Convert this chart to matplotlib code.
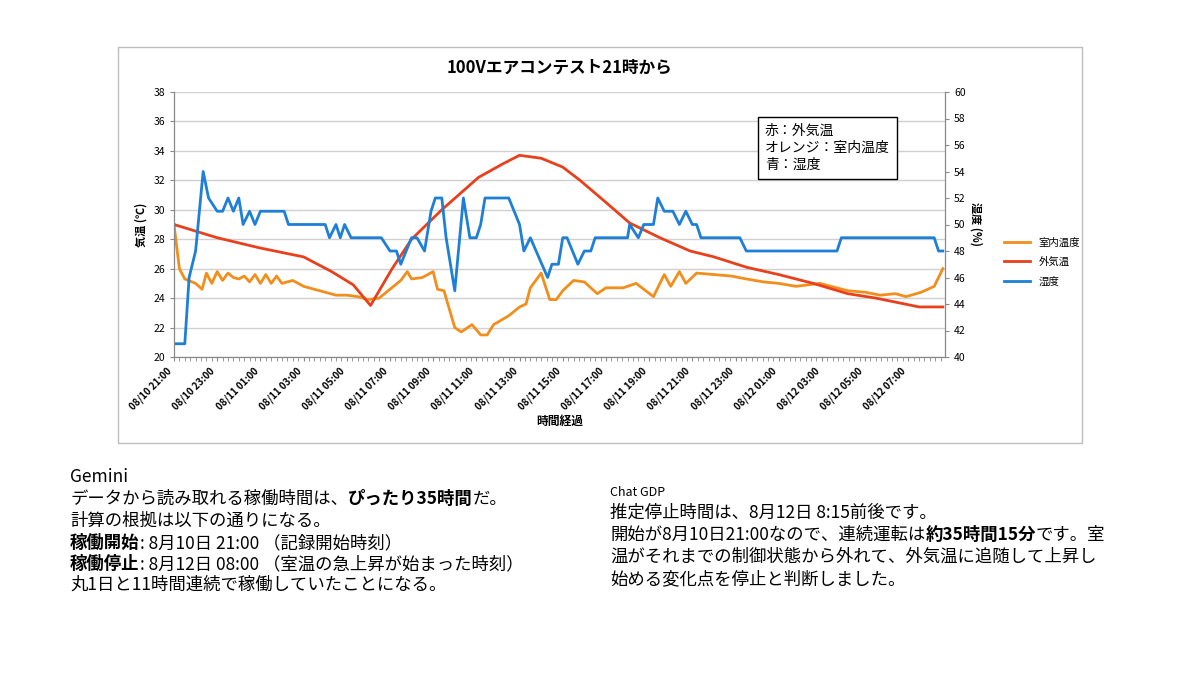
import matplotlib
matplotlib.use("Agg")
import matplotlib.pyplot as plt
import matplotlib.dates as mdates
from matplotlib.patches import Rectangle
import pandas as pd

plt.rcParams['font.family'] = ['Noto Sans CJK JP', 'DejaVu Sans']

start = pd.Timestamp("2024-08-10 21:00")

# elapsed hours / values
out_h = [0, 2, 4, 6, 7.3, 8.3, 9.1, 10.1, 11, 12.4, 14.1, 15.2, 16.0, 17.0, 18.0, 18.8, 20.0, 21.1, 22.5, 23.9, 25.0, 26.5, 28.0, 29.6, 31.2, 32.5, 33.5, 34.5, 35.6]
out_t = [29.0, 28.1, 27.4, 26.8, 25.8, 24.9, 23.5, 26.0, 28.0, 30.0, 32.2, 33.1, 33.7, 33.5, 32.9, 32.0, 30.5, 29.1, 28.1, 27.2, 26.8, 26.1, 25.6, 25.0, 24.3, 24.0, 23.7, 23.4, 23.4]

in_h = [0, 0.25, 0.5, 1, 1.3, 1.5, 1.75, 2, 2.25, 2.5, 2.75, 3, 3.25, 3.5, 3.75, 4, 4.25, 4.5, 4.75, 5, 5.5, 6, 6.5, 7, 7.5, 8, 8.5, 9, 9.5, 10, 10.5, 10.8, 11, 11.5, 12, 12.2, 12.5, 13, 13.3, 13.8, 14.2, 14.5, 14.8, 15.5, 16, 16.3, 16.5, 17.0, 17.4, 17.7, 18.0, 18.5, 19, 19.6, 20, 20.8, 21.4, 22.2, 22.7, 23.0, 23.4, 23.7, 24.2, 25.0, 25.8, 26.5, 27.3, 28.0, 28.8, 29.9, 31.2, 32.0, 32.7, 33.4, 33.9, 34.6, 35.2, 35.6]
in_t = [29.0, 26.0, 25.3, 25.0, 24.6, 25.7, 25.0, 25.8, 25.2, 25.7, 25.4, 25.3, 25.5, 25.1, 25.6, 25.0, 25.6, 25.0, 25.5, 25.0, 25.2, 24.8, 24.6, 24.4, 24.2, 24.2, 24.1, 23.9, 24.0, 24.6, 25.2, 25.8, 25.3, 25.4, 25.8, 24.6, 24.5, 22.0, 21.7, 22.2, 21.5, 21.5, 22.2, 22.8, 23.4, 23.6, 24.7, 25.7, 23.9, 23.9, 24.5, 25.2, 25.1, 24.3, 24.7, 24.7, 25.0, 24.1, 25.6, 24.8, 25.8, 25.0, 25.7, 25.6, 25.5, 25.3, 25.1, 25.0, 24.8, 25.0, 24.5, 24.4, 24.2, 24.3, 24.1, 24.4, 24.8, 26.0]

hum_h = [0, 0.5, 0.7, 1, 1.35, 1.6, 2, 2.25, 2.5, 2.75, 3, 3.2, 3.5, 3.75, 4, 5.1, 5.3, 7.0, 7.2, 7.5, 7.7, 7.9, 8.2, 9.6, 10, 10.3, 10.5, 11, 11.25, 11.6, 11.9, 12.1, 12.4, 12.6, 13.0, 13.4, 13.7, 14.0, 14.2, 14.4, 15.5, 16.0, 16.2, 16.5, 17.3, 17.5, 17.8, 18.0, 18.2, 18.7, 19.0, 19.3, 19.5, 21.0, 21.1, 21.5, 21.75, 22.2, 22.4, 22.7, 23.1, 23.4, 23.7, 24.0, 24.2, 24.4, 26.2, 26.5, 30.7, 30.9, 35.2, 35.4, 35.6]
hum_v = [41, 41, 46, 48, 54, 52, 51, 51, 52, 51, 52, 50, 51, 50, 51, 51, 50, 50, 49, 50, 49, 50, 49, 49, 48, 48, 47, 49, 49, 48, 51, 52, 52, 49, 45, 52, 49, 49, 50, 52, 52, 50, 48, 49, 46, 47, 47, 49, 49, 47, 48, 48, 49, 49, 50, 49, 50, 50, 52, 51, 51, 50, 51, 50, 50, 49, 49, 48, 48, 49, 49, 48, 48]

def to_t(h):
    return [start + pd.Timedelta(hours=x) for x in h]

fig = plt.figure(figsize=(12, 6.75), dpi=100)
fig.patches.append(Rectangle((118/1200, 1-443/675), (1082-118)/1200, (443-47)/675,
                             transform=fig.transFigure, fill=False, ec='#bdbdbd', lw=1))
ax = fig.add_axes([174/1200, 1-357/675, (945-174)/1200, (357-92)/675])
ax2 = ax.twinx()

l1, = ax.plot(to_t(in_h), in_t, color='#f28e1c', lw=2, label='室内温度')
l2, = ax.plot(to_t(out_h), out_t, color='#e8401c', lw=2, label='外気温')
l3, = ax2.plot(to_t(hum_h), hum_v, color='#1e7fd6', lw=2, label='湿度')

ax.set_ylim(20, 38)
ax.set_yticks(range(20, 39, 2))
ax2.set_ylim(40, 60)
ax2.set_yticks(range(40, 61, 2))
ax.set_xlim(start, start + pd.Timedelta(hours=35.7))
ax.xaxis.set_major_locator(mdates.HourLocator(byhour=range(1, 24, 2)))
ax.xaxis.set_minor_locator(mdates.MinuteLocator(byminute=[0, 15, 30, 45]))
ax.xaxis.set_major_formatter(mdates.DateFormatter('%m/%d %H:%M'))
for lab in ax.get_xticklabels():
    lab.set_rotation(45); lab.set_ha('right'); lab.set_fontsize(7); lab.set_fontweight('bold')
ax.tick_params(axis='y', labelsize=7.5, length=3, color='#888888')
ax2.tick_params(axis='y', labelsize=7.5, length=3, color='#888888')
ax.tick_params(axis='x', which='both', length=3, color='#888888')
ax.grid(axis='y', color='#d0d0d0', lw=1)
for a in (ax, ax2):
    a.spines['top'].set_visible(False)
    a.spines['left'].set_color('#888888'); a.spines['right'].set_color('#888888')
    a.spines['bottom'].set_color('#888888')
ax.set_ylabel('気温 (℃)', fontsize=8, fontweight='bold')
ax2.set_ylabel('湿度 (%)', fontsize=8, fontweight='bold', rotation=-90, labelpad=12)
ax.set_xlabel('時間経過', fontsize=8.5, fontweight='bold', labelpad=2)
ax.set_title('100Vエアコンテスト21時から', fontsize=12, fontweight='bold', pad=14)

fig.legend(handles=[l1, l2, l3], loc='center left', bbox_to_anchor=(995/1200, 1-262/675),
           frameon=False, fontsize=7.5, handlelength=2.5, labelspacing=0.9)

fig.text(765/1200, 1-148/675, '赤：外気温\nオレンジ：室内温度\n青：湿度', fontsize=10, va='center',
         linespacing=1.3, bbox=dict(boxstyle='square,pad=0.5', fc='white', ec='black', lw=1))

def rich(x, y, parts, size):
    last = None
    for txt, bold in parts:
        w = 'bold' if bold else 'normal'
        if last is None:
            last = fig.text(x, y, txt, fontsize=size, fontweight=w, va='baseline')
        else:
            last = fig.add_artist(matplotlib.text.Annotation(
                txt, xy=(1, 0), xycoords=last, va='bottom', ha='left',
                fontsize=size, fontweight=w))

L = 12.5
lx = 70/1200
rich(lx, 1-482/675, [('Gemini', False)], L)
rich(lx, 1-504/675, [('データから読み取れる稼働時間は、', False), ('ぴったり35時間', True), ('だ。', False)], L)
rich(lx, 1-526/675, [('計算の根拠は以下の通りになる。', False)], L)
rich(lx, 1-548/675, [('稼働開始', True), (': 8月10日 21:00 （記録開始時刻）', False)], L)
rich(lx, 1-569/675, [('稼働停止', True), (': 8月12日 08:00 （室温の急上昇が始まった時刻）', False)], L)
rich(lx, 1-590/675, [('丸1日と11時間連続で稼働していたことになる。', False)], L)

rx = 610/1200
rich(rx, 1-496/675, [('Chat GDP', False)], 9)
rich(rx, 1-518/675, [('推定停止時間は、8月12日 8:15前後です。', False)], L)
rich(rx, 1-540/675, [('開始が8月10日21:00なので、連続運転は', False), ('約35時間15分', True), ('です。室', False)], L)
rich(rx, 1-562/675, [('温がそれまでの制御状態から外れて、外気温に追随して上昇し', False)], L)
rich(rx, 1-584/675, [('始める変化点を停止と判断しました。', False)], L)

fig.savefig('out.png', dpi=100)
